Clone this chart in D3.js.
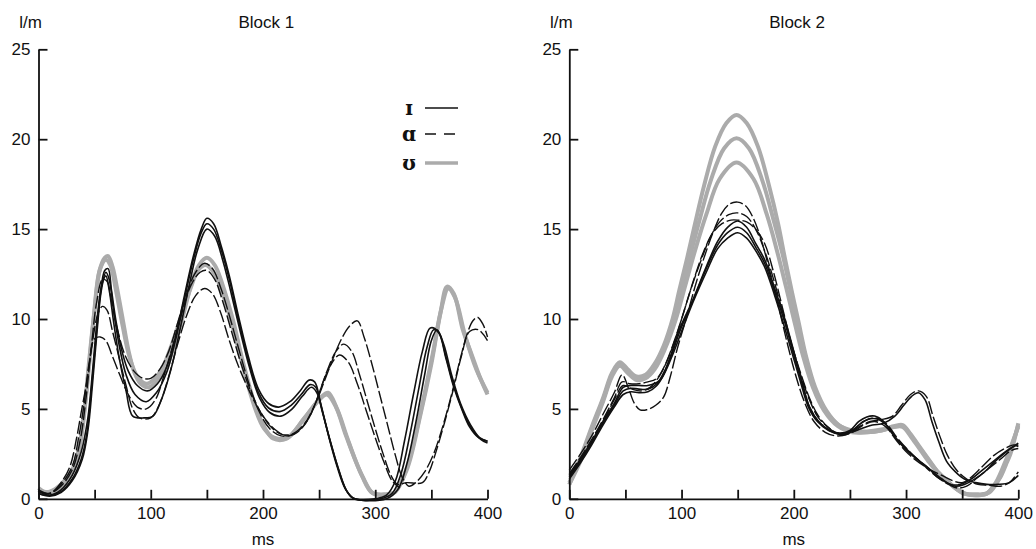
<!DOCTYPE html>
<html><head><meta charset="utf-8">
<script src="https://cdn.jsdelivr.net/npm/d3@7"></script>
<style>
html,body{margin:0;padding:0;background:#fff;}
svg text{fill:#111;}
</style></head>
<body><svg id="c" width="1036" height="549"></svg>
<script>
// ---------- data ----------
const xTickValues = [0,50,100,150,200,250,300,350,400];
const xTickLabels = [0,100,200,300,400];
const yTickValues = [0,5,10,15,20,25];
const panelTitles = ["Block 1","Block 2"];
const yUnit = "l/m";
const xUnit = "ms";
const legendSymbols = ["ɪ","ɑ","ʊ"];

// Block 1 — ʊ (grey)
const b1_u1 = [[0,0.6],[5,0.4],[10,0.4],[20,0.8],[30,1.6],[36,2.8],[41,5],[45,7.6],[49,10],[54,12.6],[59,13.4],[62,13.5],[66,12.9],[70,11.7],[75,10],[80,8.3],[85,7.1],[91,6.4],[98,6.2],[105,6.5],[114,7.3],[121,8.6],[128,10],[136,11.9],[143,13],[150,13.4],[157,13],[164,11.9],[173,10],[183,7.4],[194,5],[202,3.9],[209,3.35],[221,3.35],[236,4.4],[251,5.6],[258,5.9],[266,5],[275,3.4],[282,2.2],[289,1.2],[298,0.3],[308,0.2],[316,0.3],[328,1.6],[340,4.6],[350,7.5],[358,10.3],[364,11.8],[370,11.4],[378,9.4],[386,8],[393,6.8],[400,5.8]];
const b1_u2 = [[0,0.5],[10,0.3],[20,0.7],[30,1.5],[37,3],[42,5.5],[46,8],[50,10.5],[55,12.8],[60,13.3],[64,13],[69,11.6],[75,9.6],[81,7.9],[88,6.8],[96,6.4],[104,6.7],[112,7.5],[120,8.8],[128,10.3],[136,11.8],[142,12.7],[149,13],[156,12.6],[163,11.6],[172,9.8],[182,7.4],[192,5.2],[201,3.9],[210,3.4],[222,3.4],[237,4.5],[250,5.5],[257,5.8],[265,5.1],[274,3.5],[288,1.3],[297,0.35],[308,0.25],[318,0.4],[329,1.9],[341,5],[351,8],[359,10.6],[365,11.7],[371,11.2],[380,9.1],[390,7.2],[400,5.9]];
// Block 1 — ɪ (solid)
const b1_i1 = [[0,0.4],[10,0.2],[20,0.4],[30,1.1],[38,2.2],[43,3.6],[47,6],[51,8.8],[55,11.3],[59,12.7],[62,12.8],[65,11.6],[69,9.9],[74,8.3],[80,7.1],[88,6.3],[97,6],[106,6.4],[114,7.3],[122,9],[130,11.3],[138,13.5],[145,15],[150,15.6],[156,15.3],[163,14],[170,12.4],[178,10.2],[187,7.9],[196,6.1],[205,5.3],[214,5.1],[224,5.4],[233,6],[241,6.6],[246,6.5],[251,5.4],[258,3.6],[266,1.8],[273,0.6],[280,0.05],[300,0],[310,0.2],[318,1],[326,3.2],[334,5.8],[342,8.2],[349,9.5],[356,9.3],[363,7.8],[370,6.2],[377,5],[384,4],[392,3.4],[400,3.2]];
const b1_i2 = [[0,0.3],[10,0.15],[20,0.35],[30,1],[39,2.2],[44,3.8],[48,6.3],[52,9.2],[56,11.6],[60,12.6],[63,12.2],[67,10.4],[72,8.5],[78,6.9],[86,5.8],[96,5.4],[105,5.9],[114,7],[122,8.8],[130,11.1],[138,13.3],[145,14.8],[150,15.3],[156,15],[163,13.8],[170,12.2],[178,10],[187,7.7],[196,5.9],[205,5.05],[215,4.85],[225,5.2],[234,5.8],[242,6.35],[247,6.2],[252,5.1],[259,3.4],[267,1.7],[274,0.5],[281,0],[305,0],[315,0.3],[323,1.4],[331,3.6],[339,6.2],[346,8.4],[352,9.4],[357,9.2],[363,7.9],[370,6.3],[378,4.9],[386,3.9],[394,3.3],[400,3.1]];
const b1_i3 = [[0,0.3],[10,0.2],[20,0.5],[30,1.3],[38,2.6],[44,4.5],[48,7],[52,9.8],[56,11.8],[60,12.4],[63,11.6],[67,9.8],[72,7.8],[78,6],[84,4.6],[94,4.5],[102,4.6],[110,5.6],[118,7.2],[126,9.4],[134,11.8],[142,13.9],[150,15],[157,14.6],[164,13.3],[171,11.6],[179,9.5],[188,7.3],[197,5.6],[206,4.8],[216,4.6],[226,5],[235,5.7],[243,6.2],[248,5.9],[253,4.8],[260,3.2],[268,1.5],[275,0.4],[282,0],[310,0],[320,0.5],[328,1.9],[336,4.2],[344,6.9],[350,8.8],[355,9.4],[361,8.6],[368,6.9],[376,5.3],[385,4.1],[393,3.4],[400,3.2]];
// Block 1 — ɑ (dashed)
const b1_a1 = [[0,0.5],[10,0.3],[20,0.9],[28,1.8],[34,3.4],[38,4.8],[43,6.5],[48,8.7],[53,10.3],[57,10.7],[61,10.5],[66,9.3],[72,7.8],[78,6.3],[84,5],[90,4.5],[100,4.5],[108,5.3],[116,6.8],[124,8.6],[132,10.2],[140,11.3],[148,11.7],[155,11.4],[162,10.4],[170,8.8],[178,7.4],[187,6.1],[196,5],[205,4.2],[214,3.7],[222,3.5],[232,3.8],[241,4.5],[249,5.7],[257,7.1],[265,8.2],[272,8.6],[279,8.2],[286,6.9],[293,5.4],[300,3.9],[307,2.5],[314,1.3],[320,0.8],[328,0.9],[342,0.9],[348,1.5],[355,2.8],[362,4.3],[370,6.2],[377,8],[384,9.3],[392,9.4],[400,8.8]];
const b1_a2 = [[0,0.4],[10,0.3],[20,0.8],[30,1.8],[36,3.5],[40,5],[45,7.5],[50,8.9],[55,9],[60,8.8],[66,7.9],[73,6.8],[80,5.8],[88,5.1],[96,5],[104,5.5],[112,6.9],[120,8.6],[128,10.4],[136,11.9],[144,12.6],[150,12.7],[157,12.2],[164,11],[172,9.3],[180,7.6],[189,6],[198,4.8],[207,4],[216,3.6],[226,3.6],[236,4.1],[246,5.2],[255,6.6],[263,7.9],[270,8.9],[277,9.6],[284,9.9],[290,9],[297,7.5],[304,5.8],[311,4.1],[318,2.4],[324,1.2],[330,0.7],[336,0.9],[344,1.5],[352,2.5],[360,4],[368,5.8],[375,7.6],[382,9.2],[387,9.9],[391,10.1],[396,9.7],[400,9.0]];
const b1_a3 = [[0,0.4],[10,0.3],[20,0.7],[30,1.6],[37,3.2],[42,5.4],[47,8.4],[52,11],[57,12.2],[61,12.1],[65,11],[70,9.5],[77,8],[85,7.1],[93,6.7],[100,6.7],[108,7.2],[116,8.2],[124,9.8],[132,11.4],[140,12.6],[148,13.1],[155,12.8],[162,11.8],[170,10.2],[179,8.2],[188,6.3],[197,4.8],[206,3.9],[216,3.5],[228,3.6],[238,4.2],[246,5.2],[253,6.4],[260,7.4],[268,8],[276,7.6],[284,6.4],[292,4.9],[300,3.4],[308,2],[315,1],[322,0.6]];

// Block 2 — ʊ (grey)
const b2_u1 = [[0,0.8],[10,2.3],[20,4],[30,5.6],[38,7],[45,7.6],[52,7.2],[60,6.8],[68,6.9],[76,7.5],[84,8.5],[92,10],[98,11.6],[105,13.4],[112,15.3],[120,17.4],[130,19.6],[140,20.9],[149,21.35],[158,20.9],[168,19.6],[178,17.4],[186,15.3],[192,13.4],[198,11.6],[204,9.9],[211,7.9],[219,6.2],[229,4.9],[240,4.1],[252,3.8],[265,3.75],[278,3.85],[290,4.05],[297,4.1],[304,3.6],[312,2.9],[320,2.2],[327,1.6],[335,1.1],[342,0.7],[351,0.3],[362,0.25],[372,0.3],[378,0.7],[384,1.2],[389,1.9],[393,2.5],[397,3.4],[400,4.2]];
const b2_u2 = [[0,0.9],[10,2.2],[20,3.9],[30,5.5],[38,6.9],[45,7.5],[52,7.1],[60,6.7],[68,6.8],[76,7.3],[84,8.3],[93,9.9],[100,11.6],[108,13.6],[116,15.5],[126,17.7],[138,19.5],[149,20.05],[160,19.5],[172,17.7],[182,15.5],[190,13.6],[197,11.6],[203,9.9],[210,8],[218,6.2],[228,4.9],[240,4.1],[252,3.75],[265,3.7],[278,3.8],[290,4],[297,4.05],[304,3.55],[312,2.85],[320,2.15],[328,1.5],[336,1],[344,0.6],[352,0.3],[362,0.2],[372,0.3],[380,0.9],[388,2],[394,3],[400,4]];
const b2_u3 = [[0,0.8],[10,2.1],[20,3.8],[30,5.4],[38,6.8],[45,7.4],[52,7],[60,6.6],[68,6.7],[76,7.2],[85,8.3],[95,10],[103,11.8],[112,13.8],[122,15.8],[134,17.8],[149,18.7],[164,17.8],[176,15.8],[185,13.8],[193,11.8],[200,10],[208,8],[217,6.2],[227,4.9],[239,4.05],[252,3.7],[265,3.7],[278,3.8],[290,4],[297,4],[305,3.4],[313,2.7],[321,2],[329,1.4],[338,0.9],[346,0.5],[354,0.25],[364,0.2],[374,0.35],[382,1],[390,2.2],[396,3.3],[400,4.1]];
// Block 2 — ɪ (solid)
const b2_i1 = [[0,1.3],[10,2.2],[20,3.2],[30,4.3],[40,5.3],[48,6.2],[55,6.3],[62,6.3],[70,6.3],[81,6.6],[90,7.9],[98,9.4],[110,11.05],[122,12.9],[132,14.3],[141,15.1],[150,15.45],[158,15.1],[166,14.2],[174,13.3],[183,11.7],[192,10],[200,8.2],[207,6.6],[214,5.1],[222,4.3],[232,3.8],[241,3.65],[250,3.8],[258,4.3],[265,4.55],[272,4.6],[280,4.3],[288,3.6],[296,3],[304,2.5],[312,2.1],[320,1.7],[328,1.2],[336,0.9],[344,0.7],[352,0.8],[360,1.05],[370,1.5],[378,2],[387,2.5],[396,2.9],[400,3]];
const b2_i2 = [[0,1.2],[10,2.1],[20,3.1],[30,4.2],[40,5.2],[48,6],[55,6.15],[62,6.1],[70,6.1],[78,6.4],[84,7],[91,8],[99,9.4],[110,11],[122,12.8],[132,14.1],[141,14.8],[150,15.1],[158,14.8],[166,14],[174,13.1],[183,11.5],[192,9.8],[200,8],[207,6.5],[214,5.1],[222,4.3],[232,3.8],[242,3.6],[252,3.8],[260,4.2],[268,4.45],[276,4.4],[284,4],[292,3.3],[300,2.8],[308,2.3],[316,1.9],[324,1.5],[332,1.1],[340,0.8],[348,0.8],[358,1.1],[368,1.6],[378,2.1],[388,2.6],[400,3.1]];
const b2_i3 = [[0,1.1],[10,2],[20,3],[30,4.1],[40,5.1],[48,5.8],[55,5.95],[62,5.9],[70,5.95],[78,6.3],[85,7],[92,8],[100,9.3],[110,10.9],[122,12.6],[132,13.9],[141,14.5],[150,14.8],[158,14.5],[166,13.8],[174,12.9],[183,11.3],[191,9.7],[199,8],[206,6.5],[213,5.1],[221,4.3],[231,3.8],[241,3.6],[251,3.7],[260,3.9],[270,4.1],[280,4.2],[290,4.6],[298,5.2],[305,5.7],[311,5.9],[317,5.5],[323,4.3],[329,3.2],[336,2.1],[344,1.5],[352,1.1],[362,0.9],[372,0.8],[382,0.8],[392,0.9],[400,1.3]];
// Block 2 — ɑ (dashed)
const b2_a1 = [[0,1.6],[10,2.5],[20,3.5],[30,4.7],[40,5.9],[47,6.9],[53,6.1],[58,5.3],[63,4.95],[69,4.95],[77,5.2],[84,5.65],[90,6.8],[96,8.3],[104,10],[112,11.8],[120,13.4],[128,14.8],[136,15.9],[143,16.4],[150,16.5],[157,16.3],[164,15.6],[171,14.4],[178,12.8],[186,10.8],[194,8.7],[202,6.8],[210,5.3],[218,4.3],[228,3.7],[238,3.5],[248,3.6],[258,4],[268,4.3],[278,4.4],[288,4.6],[296,5.2],[304,5.8],[311,6],[318,5.7],[324,4.6],[330,3.5],[337,2.4],[345,1.6],[354,1.1],[364,0.8],[374,0.75],[384,0.7],[392,0.9],[400,1.5]];
const b2_a2 = [[0,1.4],[10,2.3],[20,3.3],[30,4.4],[40,5.6],[47,6.5],[54,6.4],[62,6.4],[70,6.5],[78,6.7],[85,7.4],[92,8.5],[100,10],[108,11.6],[117,13.2],[126,14.6],[134,15.4],[142,15.8],[150,15.9],[158,15.7],[166,15],[174,13.8],[182,12.2],[190,10.4],[198,8.6],[206,7],[214,5.6],[222,4.6],[232,3.9],[242,3.6],[252,3.8],[262,4.3],[272,4.5],[282,4.2],[292,3.4],[302,2.7],[312,2.1],[322,1.5],[330,1.1],[338,0.8],[346,0.6],[354,0.7],[364,1.2],[374,1.7],[384,2.2],[394,2.7],[400,2.8]];
const b2_a3 = [[0,1.3],[10,2.2],[20,3.2],[30,4.3],[40,5.5],[48,6.3],[56,6.1],[64,6],[72,6.2],[80,6.8],[88,7.8],[96,9.2],[104,10.8],[112,12.4],[120,13.8],[128,14.8],[136,15.3],[144,15.5],[150,15.5],[158,15.4],[166,15],[174,14.2],[182,12.6],[190,10.6],[198,8.6],[206,6.9],[214,5.5],[222,4.5],[232,3.9],[242,3.55],[252,3.7],[262,4.1],[272,4.3],[282,4],[292,3.2],[302,2.5],[312,2],[322,1.6],[332,1.3],[342,1],[350,0.9],[358,1.2],[368,1.8],[378,2.4],[388,2.8],[396,3],[400,2.9]];

// ---------- layout ----------
const svg = d3.select("#c");
const GREY = "#ababab";
const SANS = "'Liberation Sans',Arial,sans-serif";
const SERIF = "'DejaVu Serif','Liberation Serif',serif";
const plotTop = 49.3, plotBottom = 498.8, plotW = 449;
const panels = [
  {title: panelTitles[0], x0: 38.5, grey:[b1_u1,b1_u2], solid:[b1_i1,b1_i2,b1_i3], dashed:[b1_a1,b1_a2,b1_a3], legend:true},
  {title: panelTitles[1], x0: 569.3, grey:[b2_u1,b2_u2,b2_u3], solid:[b2_i1,b2_i2,b2_i3], dashed:[b2_a1,b2_a2,b2_a3], legend:false}
];

panels.forEach(p => {
  const x = d3.scaleLinear().domain([0,400]).range([p.x0, p.x0 + plotW]);
  const y = d3.scaleLinear().domain([0,25]).range([plotBottom, plotTop]);
  const g = svg.append("g");

  const line = d3.line().x(d => x(d[0])).y(d => y(Math.max(0,d[1]))).curve(d3.curveCatmullRom.alpha(0.5));

  p.grey.forEach(s => g.append("path").attr("d", line(s)).attr("fill","none")
    .attr("stroke", GREY).attr("stroke-width", 4).attr("stroke-linejoin","round"));
  p.dashed.forEach(s => g.append("path").attr("d", line(s)).attr("fill","none")
    .attr("stroke", "#111").attr("stroke-width", 1.4).attr("stroke-dasharray","13,3"));
  p.solid.forEach(s => g.append("path").attr("d", line(s)).attr("fill","none")
    .attr("stroke", "#111").attr("stroke-width", 1.6));

  const xAxis = d3.axisBottom(x).tickValues(xTickValues)
    .tickFormat(d => xTickLabels.includes(d) ? d : "")
    .tickSizeInner(-9).tickSizeOuter(0).tickPadding(8);
  const gx = g.append("g").attr("transform", `translate(0,${plotBottom})`).call(xAxis);
  const yAxis = d3.axisLeft(y).tickValues(yTickValues).tickSizeInner(-9).tickSizeOuter(0).tickPadding(8);
  const gy = g.append("g").attr("transform", `translate(${p.x0},0)`).call(yAxis);
  [gx, gy].forEach(a => {
    a.selectAll("path,line").attr("stroke","#111").attr("stroke-width",1.8);
    a.selectAll("text").attr("font-size",17).attr("fill","#111").style("font-family", SANS);
  });

  g.append("text").attr("x", x(203)).attr("y", 28).attr("text-anchor","middle")
    .attr("font-size",17).style("font-family", SANS).text(p.title);
  g.append("text").attr("x", p.x0 - 8).attr("y", 28).attr("text-anchor","middle")
    .attr("font-size",17).style("font-family", SANS).text(yUnit);
  g.append("text").attr("x", x(200)).attr("y", 545).attr("text-anchor","middle")
    .attr("font-size",17).style("font-family", SANS).text(xUnit);

  if (p.legend) {
    const ly = [108, 134, 163];
    const styles = [
      {stroke:"#111", w:1.6, dash:null},
      {stroke:"#111", w:1.6, dash:"11,8"},
      {stroke:GREY, w:3.5, dash:null}
    ];
    legendSymbols.forEach((s,i) => {
      g.append("text").attr("x", 409).attr("y", ly[i]).attr("dy","0.35em")
        .attr("text-anchor","middle").attr("font-size",20).attr("font-weight","bold")
        .style("font-family", SERIF).text(s);
      g.append("line").attr("x1",425).attr("x2",458).attr("y1",ly[i]).attr("y2",ly[i])
        .attr("stroke",styles[i].stroke).attr("stroke-width",styles[i].w)
        .attr("stroke-dasharray",styles[i].dash);
    });
  }
});
</script></body></html>
